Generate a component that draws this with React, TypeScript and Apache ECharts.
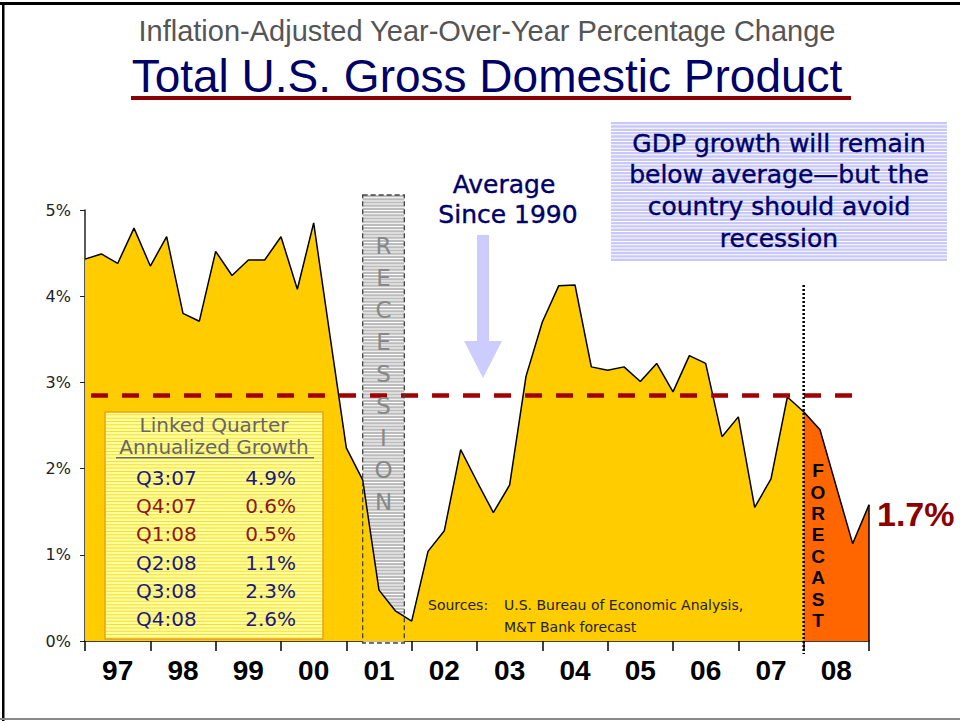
import React, { useEffect, useRef } from 'react';
import * as echarts from 'echarts';

// ---- Data ----
const yearLabels = ['97', '98', '99', '00', '01', '02', '03', '04', '05', '06', '07', '08'];
// Year-over-year % change, quarterly (Q4'96 .. Q4'08); last 4 are forecast
const gdpGrowth = [
  4.43, 4.49, 4.38, 4.79, 4.35, 4.69, 3.80, 3.71, 4.52, 4.24,
  4.42, 4.42, 4.69, 4.08, 4.85, 3.54, 2.24, 1.87, 0.59, 0.35,
  0.23, 1.04, 1.28, 2.22, 1.85, 1.49, 1.81, 3.07, 3.70, 4.12,
  4.13, 3.18, 3.14, 3.18, 3.01, 3.22, 2.89, 3.31, 3.22, 2.37,
  2.60, 1.55, 1.88, 2.83, 2.66, 2.45, 1.79, 1.13, 1.58,
];
const forecastStart = 44;
const averageSince1990 = 2.85;
const recessionStart = 17;
const recessionEnd = 19.55;
const tableQuarters = ['Q3:07', 'Q4:07', 'Q1:08', 'Q2:08', 'Q3:08', 'Q4:08'];
const tableValues = ['4.9%', '0.6%', '0.5%', '1.1%', '2.3%', '2.6%'];
const tableHighlight = [false, true, true, false, false, false];
const endLabel = '1.7%';

const NAVY = '#000066';
const DARKRED = '#8B0000';
const SANS = 'DejaVu Sans';
const ARIAL = 'Liberation Sans, Arial, sans-serif';

function stripes(x: number, y: number, w: number, h: number, base: string, line: string, period: number, z: number) {
  const els: any[] = [
    { type: 'rect', z, silent: true, shape: { x, y, width: w, height: h }, style: { fill: base } },
  ];
  for (let yy = y + period - 1; yy < y + h - 0.5; yy += period) {
    els.push({ type: 'rect', z, silent: true, shape: { x, y: yy, width: w, height: 1 }, style: { fill: line } });
  }
  return els;
}

export default function App() {
  const ref = useRef<HTMLDivElement>(null);

  useEffect(() => {
    if (!ref.current) return;
    const chart = echarts.init(ref.current, null, { renderer: 'svg' });

    const all = gdpGrowth.map((v, i) => [i, v]);
    const actual = all.filter((p) => p[0] <= forecastStart);
    const forecast = all.filter((p) => p[0] >= forecastStart);

    const option: any = {
      animation: false,
      backgroundColor: '#ffffff',
      grid: { left: 85, right: 91, top: 210, bottom: 80, containLabel: false, outerBoundsMode: 'none' },
      xAxis: [
        {
          type: 'value', min: 0, max: gdpGrowth.length - 1, interval: 4, position: 'bottom',
          axisLine: { show: true, onZero: false, lineStyle: { color: '#000', width: 1.5 } },
          axisTick: { show: true, length: 10, lineStyle: { color: '#000', width: 1.5 } },
          axisLabel: { show: false },
          splitLine: { show: false },
        },
        {
          type: 'category', data: yearLabels, boundaryGap: true, position: 'bottom',
          axisLine: { show: false }, axisTick: { show: false }, splitLine: { show: false },
          axisLabel: { fontSize: 28, fontWeight: 'bold', color: '#000', fontFamily: ARIAL, margin: 15 },
        },
      ],
      yAxis: {
        type: 'value', min: 0, max: 5, interval: 1,
        axisLine: { show: true, lineStyle: { color: '#222', width: 1.5 } },
        axisTick: { show: true, length: 5, lineStyle: { color: '#222', width: 1 } },
        axisLabel: { formatter: '{value}%', fontSize: 16, color: '#222', fontFamily: SANS, margin: 14 },
        splitLine: { show: false },
      },
      series: [
        {
          type: 'line', name: 'Actual', data: actual, symbol: 'none', xAxisIndex: 0,
          lineStyle: { width: 0 }, areaStyle: { color: '#FFCC00', opacity: 1 }, z: 2,
          markLine: {
            silent: true, symbol: ['none', 'none'], label: { show: false },
            lineStyle: { color: '#A00000', width: 4.5, type: [17, 14] },
            data: [[{ coord: [0.37, averageSince1990] }, { coord: [47.57, averageSince1990] }]],
          },
        },
        {
          type: 'line', name: 'Forecast', data: forecast, symbol: 'none', xAxisIndex: 0,
          lineStyle: { width: 0 }, areaStyle: { color: '#FF6600', opacity: 1 }, z: 2,
        },
        {
          type: 'line', name: 'Outline', data: all, symbol: 'none', xAxisIndex: 0,
          lineStyle: { color: '#000', width: 1.5 }, z: 3,
        },
      ],
    };
    chart.setOption(option);

    const px = (x: number, y: number) => chart.convertToPixel({ xAxisIndex: 0, yAxisIndex: 0 }, [x, y]) as number[];
    const last = gdpGrowth.length - 1;
    const pLast = px(last, gdpGrowth[last]);
    const pLast0 = px(last, 0);
    const pFcTop = px(forecastStart, 4.13);
    const pFcBot = px(forecastStart, 0);
    const pRecL = px(recessionStart, 0);
    const pRecR = px(recessionEnd, 0);
    const pLabelF = px(forecastStart + 1, 0);

    const recX = pRecL[0];
    const recW = pRecR[0] - pRecL[0];
    const recTop = 195;
    const recBot = pRecL[1] + 2;

    const g: any[] = [];
    // frame
    g.push({ type: 'rect', z: 20, silent: true, shape: { x: 0, y: 2, width: 960, height: 3 }, style: { fill: '#000' } });
    g.push({ type: 'rect', z: 20, silent: true, shape: { x: 2, y: 2, width: 2.5, height: 719 }, style: { fill: '#000' } });
    g.push({ type: 'rect', z: 20, silent: true, shape: { x: 0, y: 718, width: 960, height: 2 }, style: { fill: '#888' } });
    // titles
    g.push({ type: 'text', z: 20, x: 487, y: 31, style: { text: 'Inflation-Adjusted Year-Over-Year Percentage Change', fill: '#555', fontSize: 29, fontFamily: ARIAL, align: 'center', verticalAlign: 'middle' } });
    g.push({ type: 'text', z: 20, x: 487, y: 76, style: { text: 'Total U.S. Gross Domestic Product', fill: NAVY, fontSize: 46, fontFamily: ARIAL, align: 'center', verticalAlign: 'middle' } });
    g.push({ type: 'rect', z: 20, silent: true, shape: { x: 131, y: 96, width: 720, height: 4 }, style: { fill: DARKRED } });
    // callout box
    g.push(...stripes(611, 122, 336, 139, '#C8C8FA', '#ffffff', 3.33, 5));
    ['GDP growth will remain', 'below average\u2014but the', 'country should avoid', 'recession'].forEach((t, i) => {
      g.push({ type: 'text', z: 20, x: 779, y: 143 + i * 31.7, style: { text: t, fill: NAVY, fontSize: 25, fontFamily: SANS, align: 'center', verticalAlign: 'middle', stroke: NAVY, lineWidth: 0.4 } });
    });
    // Average label and arrow
    g.push({ type: 'text', z: 20, x: 504, y: 184, style: { text: 'Average', fill: NAVY, fontSize: 25, fontFamily: SANS, align: 'center', verticalAlign: 'middle', stroke: NAVY, lineWidth: 0.4 } });
    g.push({ type: 'text', z: 20, x: 508, y: 214, style: { text: 'Since 1990', fill: NAVY, fontSize: 25, fontFamily: SANS, align: 'center', verticalAlign: 'middle', stroke: NAVY, lineWidth: 0.4 } });
    g.push({ type: 'rect', z: 20, silent: true, shape: { x: 477, y: 235, width: 12, height: 107 }, style: { fill: '#CCCCFF' } });
    g.push({ type: 'polygon', z: 20, silent: true, shape: { points: [[464, 341], [502, 341], [483, 378]] }, style: { fill: '#CCCCFF' } });
    // recession band
    g.push(...stripes(recX, recTop, recW, recBot - recTop, '#BBBBBB', '#ffffff', 3.2, 1));
    g.push({ type: 'rect', z: 15, silent: true, shape: { x: recX, y: recTop, width: recW, height: recBot - recTop }, style: { fill: 'none', stroke: '#444', lineWidth: 1.3, lineDash: [5, 3] } });
    g.push({ type: 'text', z: 16, x: recX + recW / 2, y: 230, style: { text: 'R\nE\nC\nE\nS\nS\nI\nO\nN', fill: '#888', fontSize: 23, lineHeight: 32, fontFamily: SANS, align: 'center', verticalAlign: 'top' } });
    // table box
    g.push(...stripes(105, 412, 218, 227, '#FFFF9C', '#F5DC3C', 3.33, 12));
    g.push({ type: 'rect', z: 13, silent: true, shape: { x: 105, y: 412, width: 218, height: 227 }, style: { fill: 'none', stroke: '#E8A317', lineWidth: 1.5 } });
    g.push({ type: 'text', z: 14, x: 214, y: 425, style: { text: 'Linked Quarter', fill: '#666', fontSize: 20, fontFamily: SANS, align: 'center', verticalAlign: 'middle' } });
    g.push({ type: 'text', z: 14, x: 214, y: 447, style: { text: 'Annualized Growth', fill: '#666', fontSize: 20, fontFamily: SANS, align: 'center', verticalAlign: 'middle' } });
    g.push({ type: 'rect', z: 14, silent: true, shape: { x: 116, y: 457, width: 198, height: 1.5 }, style: { fill: '#666' } });
    tableQuarters.forEach((q, i) => {
      const col = tableHighlight[i] ? '#8B1A1A' : '#1A1A80';
      const y = 478 + i * 28.2;
      g.push({ type: 'text', z: 14, x: 136, y, style: { text: q, fill: col, fontSize: 20, fontFamily: SANS, align: 'left', verticalAlign: 'middle' } });
      g.push({ type: 'text', z: 14, x: 296, y, style: { text: tableValues[i], fill: col, fontSize: 20, fontFamily: SANS, align: 'right', verticalAlign: 'middle' } });
    });
    // sources
    g.push({ type: 'text', z: 14, x: 428, y: 605, style: { text: 'Sources:', fill: '#222', fontSize: 14, fontFamily: SANS, align: 'left', verticalAlign: 'middle' } });
    g.push({ type: 'text', z: 14, x: 504, y: 605, style: { text: 'U.S. Bureau of Economic Analysis,', fill: '#222', fontSize: 14, fontFamily: SANS, align: 'left', verticalAlign: 'middle' } });
    g.push({ type: 'text', z: 14, x: 504, y: 627, style: { text: 'M&T Bank forecast', fill: '#222', fontSize: 14, fontFamily: SANS, align: 'left', verticalAlign: 'middle' } });
    // forecast divider and label
    g.push({ type: 'line', z: 14, silent: true, shape: { x1: pFcTop[0], y1: pFcTop[1], x2: pFcBot[0], y2: pFcBot[1] + 13 }, style: { stroke: '#000', lineWidth: 2.5, lineDash: [2, 2] } });
    g.push({ type: 'text', z: 14, x: pLabelF[0] - 2, y: 460, style: { text: 'F\nO\nR\nE\nC\nA\nS\nT', fill: '#000', fontSize: 19, fontWeight: 'bold', lineHeight: 21.4, fontFamily: ARIAL, align: 'center', verticalAlign: 'top' } });
    // right edge of forecast area
    g.push({ type: 'line', z: 14, silent: true, shape: { x1: pLast[0], y1: pLast[1], x2: pLast0[0], y2: pLast0[1] }, style: { stroke: '#000', lineWidth: 1.5 } });
    g.push({ type: 'text', z: 14, x: pLast[0] + 8, y: pLast[1] + 9, style: { text: endLabel, fill: DARKRED, fontSize: 34, fontWeight: 'bold', fontFamily: ARIAL, align: 'left', verticalAlign: 'middle' } });

    chart.setOption({ graphic: g });

    return () => chart.dispose();
  }, []);

  return (
    <div
      ref={ref}
      style={{ position: 'fixed', left: 0, top: 0, width: 960, height: 721, background: '#fff' }}
    />
  );
}
